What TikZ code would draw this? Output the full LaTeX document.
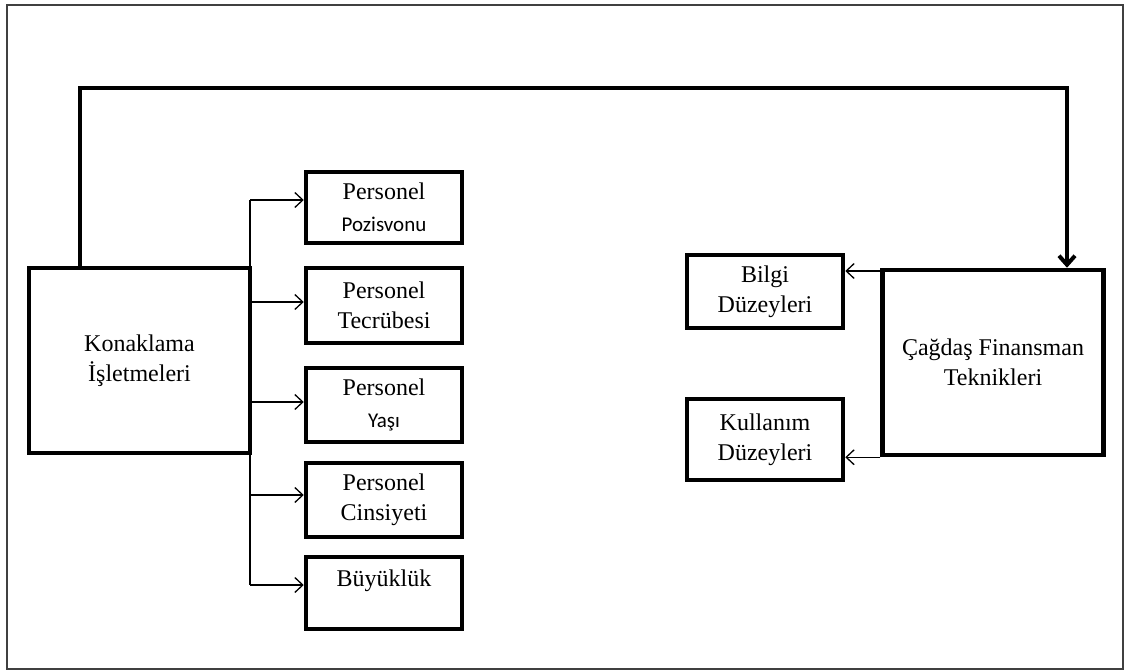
\documentclass[tikz,border=0pt]{standalone}
\usepackage{fontspec}
\setmainfont{Liberation Serif}
\newfontfamily\calibri{Carlito}
\usetikzlibrary{arrows.meta}

\tikzset{
  box/.style={draw=black, line width=4.5pt, align=center, inner sep=0pt,
    font=\fontsize{24}{30}\selectfont},
  bigbox/.style={box, minimum width=221pt, minimum height=185pt},
  smallbox/.style={box, minimum width=156pt, minimum height=73pt},
  feed/.style={line width=1.3pt, -{Straight Barb[length=8pt,width=15pt]}},
  link/.style={line width=4pt, -{Straight Barb[length=9pt,width=16pt]}},
  frame/.style={draw=black!75, line width=1.6pt},
}
\newcommand{\sanslabel}[1]{{\calibri\fontsize{21}{24}\selectfont #1}}

\begin{document}
\begin{tikzpicture}[x=1pt, y=-1pt]
  \useasboundingbox (0,0) rectangle (1125,671);
  \draw[frame] (7,5) rectangle (1123,669);

  % left side: the establishments and their staff attributes
  \node[bigbox] (kon) at (139.5,360.5) {Konaklama\\İşletmeleri};
  \node[smallbox, minimum height=71pt] (p1) at (384,207.5) {Personel\\[2pt]\sanslabel{Pozisvonu}};
  \node[smallbox, minimum height=75pt] (p2) at (384,305.5) {Personel\\Tecrübesi};
  \node[smallbox, minimum height=74pt] (p3) at (384,405) {Personel\\[2pt]\sanslabel{Yaşı}};
  \node[smallbox, minimum height=74pt] (p4) at (384,500) {Personel\\Cinsiyeti};
  \node[smallbox, minimum height=72pt] (p5) at (384,593) {Büyüklük\\\mbox{}};

  % right side: modern financing techniques
  \node[bigbox] (cag) at (993,362.5) {Çağdaş Finansman\\Teknikleri};
  \node[smallbox, minimum height=73pt] (bil) at (765,291.5) {Bilgi\\Düzeyleri};
  \node[smallbox, minimum height=81pt] (kul) at (765,439.5) {Kullanım\\Düzeyleri};

  % branch line with its five feeds
  \coordinate (b1) at (250,200);
  \coordinate (b2) at (250,302);
  \coordinate (b3) at (250,402);
  \coordinate (b4) at (250,495);
  \coordinate (b5) at (250,585);
  \draw[line width=1.3pt] (b1) -- (b5);
  \foreach \i in {1,...,5}
    \draw[feed] (b\i) -- (p\i.west |- b\i);

  % top link between the two big boxes
  \coordinate (tl) at (80,88);
  \coordinate (tr) at (1067,88);
  \draw[link] (kon.north -| tl) -- (tl) -- (tr) -- (cag.north -| tr);

  % feeds out of the financing box
  \coordinate (r1) at (882,271);
  \draw[feed] (r1) -- (bil.east |- r1);
  \draw[feed] (cag.south west) -- (kul.east |- cag.south west);
\end{tikzpicture}
\end{document}
